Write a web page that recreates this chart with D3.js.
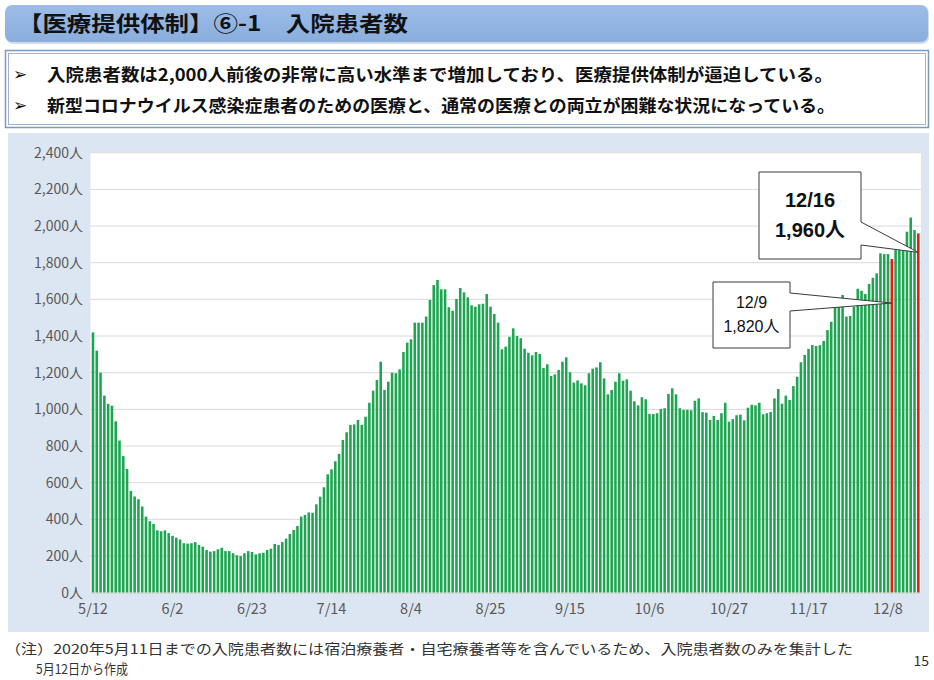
<!DOCTYPE html>
<html>
<head>
<meta charset="utf-8">
<script src="https://cdn.jsdelivr.net/npm/d3@7"></script>
<style>
  body { margin: 0; background: #fff; }
  svg { display: block; font-family: "Noto Sans CJK JP", "Noto Sans", sans-serif; }
</style>
</head>
<body>
<div id="chart"></div>
<script>
// daily inpatients from 5/12 to 12/16 (2020)
var startDate = new Date(2020, 4, 12);
var patients = [
  1420, 1320, 1200, 1075, 1030, 1020, 935, 830, 745, 675,
  555, 525, 510, 470, 415, 390, 375, 340, 335, 340,
  325, 310, 300, 290, 270, 268, 270, 276, 260, 251,
  233, 224, 227, 237, 245, 227, 227, 215, 204, 200,
  215, 227, 222, 209, 215, 218, 233, 240, 266, 260,
  276, 295, 320, 342, 364, 415, 424, 438, 436, 482,
  524, 575, 646, 673, 717, 757, 833, 875, 915, 918,
  942, 915, 960, 1036, 1102, 1160, 1260, 1106, 1151, 1200,
  1197, 1218, 1313, 1364, 1382, 1473, 1473, 1473, 1506, 1597,
  1678, 1706, 1655, 1655, 1557, 1538, 1602, 1662, 1638, 1611,
  1568, 1560, 1573, 1576, 1629, 1560, 1520, 1473, 1328, 1342,
  1396, 1442, 1400, 1388, 1331, 1309, 1295, 1313, 1302, 1226,
  1246, 1182, 1191, 1215, 1260, 1284, 1202, 1146, 1158, 1142,
  1131, 1197, 1222, 1229, 1257, 1169, 1082, 1106, 1151, 1197,
  1156, 1164, 1102, 1044, 1022, 1066, 1055, 975, 975, 979,
  1002, 1006, 1084, 1115, 1082, 1006, 997, 998, 995, 1047,
  1060, 985, 982, 942, 964, 942, 979, 1036, 933, 947,
  968, 971, 940, 1009, 1025, 1022, 1036, 973, 979, 986,
  1060, 1111, 1031, 1075, 1051, 1127, 1178, 1257, 1297, 1330,
  1351, 1346, 1350, 1373, 1433, 1478, 1555, 1560, 1624, 1506,
  1509, 1560, 1658, 1647, 1629, 1684, 1718, 1742, 1851, 1847,
  1847, 1820, 1873, 1873, 1870, 1969, 2046, 1978, 1960
];
var fmtDay = d3.timeFormat("%-m/%-d");
var days = patients.map(function(d, i) { return fmtDay(d3.timeDay.offset(startDate, i)); });

var xTickLabels = ["5/12", "6/2", "6/23", "7/14", "8/4", "8/25", "9/15", "10/6", "10/27", "11/17", "12/8"];
var yTicks = [0, 200, 400, 600, 800, 1000, 1200, 1400, 1600, 1800, 2000, 2200, 2400];
var highlightDays = ["12/9", "12/16"];

var titleText = "【医療提供体制】⑥-1　入院患者数";
var bullets = [
  "入院患者数は2,000人前後の非常に高い水準まで増加しており、医療提供体制が逼迫している。",
  "新型コロナウイルス感染症患者のための医療と、通常の医療との両立が困難な状況になっている。"
];
var notes = [
  "（注）2020年5月11日までの入院患者数には宿泊療養者・自宅療養者等を含んでいるため、入院患者数のみを集計した",
  "5月12日から作成"
];

var svgWidth = 934, svgHeight = 680;
var svg = d3.select("#chart").append("svg")
  .attr("width", svgWidth)
  .attr("height", svgHeight);

var defs = svg.append("defs");
var grad = defs.append("linearGradient").attr("id", "titleGrad")
  .attr("x1", 0).attr("y1", 0).attr("x2", 0).attr("y2", 1);
grad.append("stop").attr("offset", "0%").attr("stop-color", "#9dbde8");
grad.append("stop").attr("offset", "100%").attr("stop-color", "#89addd");

// title bar
svg.append("rect")
  .attr("x", 6).attr("y", 6).attr("width", 923).attr("height", 38)
  .attr("rx", 7).attr("fill", "#d3dbe6");
svg.append("rect")
  .attr("x", 5).attr("y", 5).attr("width", 923).attr("height", 37)
  .attr("rx", 7).attr("fill", "url(#titleGrad)");
svg.append("text")
  .attr("x", 18).attr("y", 31)
  .attr("font-size", 21).attr("font-weight", "bold").attr("fill", "#111")
  .attr("textLength", 390).attr("lengthAdjust", "spacingAndGlyphs")
  .text(titleText);

// bullet box
svg.append("rect")
  .attr("x", 5.5).attr("y", 50.5).attr("width", 923).attr("height", 77)
  .attr("fill", "#fff").attr("stroke", "#7e98c2").attr("stroke-width", 1.5);
svg.append("rect")
  .attr("x", 8.5).attr("y", 53.5).attr("width", 917).attr("height", 71)
  .attr("fill", "none").attr("stroke", "#9fb3d3").attr("stroke-width", 1);

bullets.forEach(function(t, i) {
  var by = 81 + i * 31;
  svg.append("text")
    .attr("x", 13).attr("y", by - 1)
    .attr("font-family", "DejaVu Sans").attr("font-size", 17).attr("fill", "#111")
    .text("➢");
  svg.append("text")
    .attr("x", 47).attr("y", by)
    .attr("font-size", 17).attr("font-weight", "bold").attr("fill", "#111")
    .attr("textLength", i === 0 ? 786 : 788).attr("lengthAdjust", "spacingAndGlyphs")
    .text(t);
});

// chart panel
svg.append("rect")
  .attr("x", 8).attr("y", 133).attr("width", 921).attr("height", 499)
  .attr("fill", "#dce6f2");

var plot = { left: 90.5, right: 921, top: 152, bottom: 593 };
svg.append("rect")
  .attr("x", plot.left).attr("y", plot.top)
  .attr("width", plot.right - plot.left).attr("height", plot.bottom - plot.top)
  .attr("fill", "#fff");

var x = d3.scaleBand()
  .domain(days)
  .range([91.1, 920.2])
  .paddingInner(0.32)
  .paddingOuter(0.16);

var y = d3.scaleLinear()
  .domain([0, 2400])
  .range([592.7, 152.7]);

// gridlines
svg.append("g").selectAll("line").data(yTicks.slice(1)).enter()
  .append("line")
  .attr("x1", plot.left).attr("x2", plot.right)
  .attr("y1", function(d) { return y(d); })
  .attr("y2", function(d) { return y(d); })
  .attr("stroke", "#d9d9d9").attr("stroke-width", 1);

// bars
svg.append("g").selectAll("rect").data(patients).enter()
  .append("rect")
  .attr("x", function(d, i) { return x(days[i]); })
  .attr("width", x.bandwidth())
  .attr("y", function(d) { return y(d); })
  .attr("height", function(d) { return y(0) - y(d); })
  .attr("fill", function(d, i) { return highlightDays.indexOf(days[i]) >= 0 ? "#f01818" : "#1fa552"; });

// axis line
svg.append("line")
  .attr("x1", plot.left).attr("x2", plot.right)
  .attr("y1", y(0) + 0.5).attr("y2", y(0) + 0.5)
  .attr("stroke", "#d0d0d0");

// y labels
var fmt = d3.format(",");
svg.append("g").selectAll("text").data(yTicks).enter()
  .append("text")
  .attr("x", 83)
  .attr("y", function(d) { return y(d) + 5; })
  .attr("text-anchor", "end")
  .attr("font-size", 14).attr("fill", "#595959")
  .text(function(d) { return fmt(d) + "人"; });

// x labels
svg.append("g").selectAll("text").data(xTickLabels).enter()
  .append("text")
  .attr("x", function(d) { return x(d) + x.bandwidth() / 2; })
  .attr("y", 614)
  .attr("text-anchor", "middle")
  .attr("font-size", 14.5).attr("fill", "#595959")
  .text(function(d) { return d; });

// callouts
function callout(day, box, arm, lines, size, weight) {
  var tipX = x(day) + x.bandwidth() / 2;
  var v = patients[days.indexOf(day)];
  var tipY = y(v) + arm.drop;
  var r = box.x + box.w, b = box.y + box.h;
  var p = d3.path();
  p.moveTo(box.x, box.y);
  p.lineTo(r, box.y);
  p.lineTo(r, arm.y1);
  p.lineTo(tipX, tipY);
  p.lineTo(r, arm.y2);
  p.lineTo(r, b);
  p.lineTo(box.x, b);
  p.closePath();
  svg.append("path").attr("d", p.toString())
    .attr("fill", "#fff").attr("stroke", "#3a3a3a").attr("stroke-width", 1);
  lines.forEach(function(t, i) {
    svg.append("text")
      .attr("x", box.x + box.w / 2)
      .attr("y", box.y + box.h / 2 + (i === 0 ? -size * 0.45 : size * 1.05))
      .attr("text-anchor", "middle")
      .attr("font-family", "Liberation Sans, Noto Sans CJK JP")
      .attr("font-size", size).attr("font-weight", weight).attr("fill", "#111")
      .text(t);
  });
}

callout("12/9", { x: 713, y: 282, w: 77, h: 66 }, { y1: 293, y2: 311, drop: 44 },
  ["12/9", fmt(1820) + "人"], 16, "normal");
callout("12/16", { x: 759, y: 172, w: 102, h: 87 }, { y1: 222, y2: 245, drop: 19 },
  ["12/16", fmt(1960) + "人"], 20, "bold");

// notes
svg.append("text")
  .attr("x", 5).attr("y", 654)
  .attr("font-size", 13.5).attr("fill", "#333")
  .attr("textLength", 848).attr("lengthAdjust", "spacingAndGlyphs")
  .text(notes[0]);
svg.append("text")
  .attr("x", 36).attr("y", 674)
  .attr("font-size", 13.5).attr("fill", "#333")
  .attr("textLength", 92).attr("lengthAdjust", "spacingAndGlyphs")
  .text(notes[1]);
svg.append("text")
  .attr("x", 929).attr("y", 666)
  .attr("text-anchor", "end")
  .attr("font-size", 14).attr("fill", "#333")
  .text("15");
</script>
</body>
</html>
